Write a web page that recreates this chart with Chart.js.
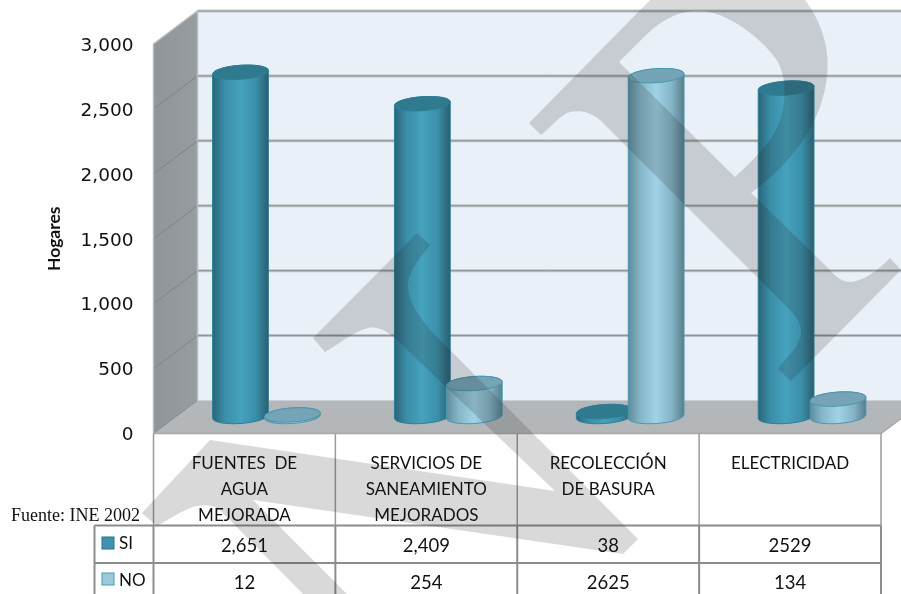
<!DOCTYPE html>
<html>
<head>
<meta charset="utf-8">
<style>html,body{margin:0;padding:0;background:#fff}canvas{display:block}</style>
<script src="https://cdn.jsdelivr.net/npm/chart.js@4/dist/chart.umd.js"></script>
</head>
<body>
<canvas id="c" width="901" height="594"></canvas>
<script>
const categories = [
  ['FUENTES  DE', 'AGUA', 'MEJORADA'],
  ['SERVICIOS DE', 'SANEAMIENTO', 'MEJORADOS'],
  ['RECOLECCIÓN', 'DE BASURA'],
  ['ELECTRICIDAD']
];
const siValues = [2651, 2409, 38, 2529];
const noValues = [12, 254, 2625, 134];
const siLabels = ['2,651', '2,409', '38', '2529'];
const noLabels = ['12', '254', '2625', '134'];
const yMax = 3000;
const yStep = 500;

const TEXT = '#111';
const FONT = 'Lato';
const looks = [
  {stops: ['#2b6578', '#3a8ea8', '#46a2bd', '#3a8ea8', '#2a5e6f'], top: '#2f7a8f', edge: '#2f7f98'},
  {stops: ['#5f8c9c', '#86b6c8', '#a0d3e6', '#85b4c6', '#557f8e'], top: '#74a4b6', edge: '#4a98b0'}
];
const DX = 44, DY = -33;          // wall depth
const BX = 22, BY = -17;          // bar depth

function cylinder(ctx, el, look) {
  const p = el.getProps(['x', 'y', 'base', 'width'], false);
  const cx = p.x + BX, rx = p.width / 2, ry = 7, rot = -0.07;
  const yt = p.y + BY, yb = p.base + BY;
  const g = ctx.createLinearGradient(cx - rx, 0, cx + rx, 0);
  [0, .22, .5, .78, 1].forEach((s, i) => g.addColorStop(s, look.stops[i]));
  ctx.beginPath();
  ctx.ellipse(cx, yb, rx, ry, rot, Math.PI, 0, true);
  ctx.ellipse(cx, yt, rx, ry, rot, 0, Math.PI, true);
  ctx.closePath();
  ctx.fillStyle = g; ctx.fill();
  ctx.strokeStyle = look.edge; ctx.lineWidth = 1; ctx.stroke();
  ctx.beginPath();
  ctx.ellipse(cx, yt, rx, ry, rot, 0, Math.PI * 2);
  ctx.fillStyle = look.top; ctx.fill();
  ctx.strokeStyle = look.edge; ctx.stroke();
}

const poly = (ctx, pts, fill) => {
  ctx.beginPath();
  pts.forEach((q, i) => i ? ctx.lineTo(q[0], q[1]) : ctx.moveTo(q[0], q[1]));
  ctx.closePath();
  ctx.fillStyle = fill; ctx.fill();
};

const scene = {
  id: 'scene',
  beforeDatasetsDraw(chart) {
    const {ctx, chartArea: a, scales: {y}} = chart;
    ctx.save();
    // back wall
    ctx.fillStyle = '#e9f0f7';
    ctx.fillRect(a.left + DX, a.top + DY, a.width, a.height);
    // left wall
    const wg = ctx.createLinearGradient(a.left, 0, a.left + DX, 0);
    wg.addColorStop(0, '#8f9598'); wg.addColorStop(1, '#969c9f');
    poly(ctx, [[a.left, a.top], [a.left + DX, a.top + DY], [a.left + DX, a.bottom + DY], [a.left, a.bottom]], wg);
    // floor
    poly(ctx, [[a.left, a.bottom], [a.left + DX, a.bottom + DY], [a.right + DX, a.bottom + DY], [a.right, a.bottom]], '#b3b7ba');
    // gridlines from the value scale
    y.ticks.forEach(t => {
      const py = y.getPixelForValue(t.value);
      if (t.value > 0) {
        ctx.strokeStyle = 'rgba(150,150,150,.5)'; ctx.lineWidth = 3;
        ctx.beginPath(); ctx.moveTo(a.left + DX, py + DY); ctx.lineTo(a.right + DX, py + DY); ctx.stroke();
        ctx.strokeStyle = 'rgba(125,125,125,.75)'; ctx.lineWidth = 1;
        ctx.beginPath(); ctx.moveTo(a.left + DX, py + DY); ctx.lineTo(a.right + DX, py + DY); ctx.stroke();
      }
      ctx.strokeStyle = 'rgba(125,125,125,.8)'; ctx.lineWidth = 1;
      ctx.beginPath(); ctx.moveTo(a.left, py); ctx.lineTo(a.left + DX, py + DY); ctx.stroke();
    });
    // wall edges
    ctx.strokeStyle = '#b9bcbe'; ctx.lineWidth = 1.5;
    ctx.beginPath();
    ctx.moveTo(a.left, a.bottom); ctx.lineTo(a.left, a.top); ctx.lineTo(a.left + DX, a.top + DY); ctx.lineTo(a.left + DX, a.bottom + DY);
    ctx.stroke();
    ctx.strokeStyle = '#c9d0d6'; ctx.lineWidth = 1;
    ctx.beginPath(); ctx.moveTo(a.left + DX, a.bottom + DY); ctx.lineTo(a.right + DX, a.bottom + DY); ctx.stroke();
    ctx.strokeStyle = '#a7a9ab'; ctx.lineWidth = 1.5;
    ctx.beginPath(); ctx.moveTo(a.left, a.bottom); ctx.lineTo(a.right, a.bottom); ctx.lineTo(a.right + DX, a.bottom + DY); ctx.stroke();
    // cylinders: first series behind, second series in front
    chart.data.datasets.forEach((d, i) => {
      chart.getDatasetMeta(i).data.forEach(el => cylinder(ctx, el, looks[i]));
    });
    ctx.restore();
  },
  beforeDatasetDraw() {
    return false;
  },
  afterDraw(chart) {
    const {ctx, chartArea: a, scales: {x}, data} = chart;
    ctx.save();
    const n = categories.length, cw = a.width / n;
    const r1 = 525.5, r2 = 563, end = 594, lx = 94.5;
    // header verticals
    ctx.strokeStyle = '#9a9a9a'; ctx.lineWidth = 1.5;
    for (let i = 0; i <= n; i++) {
      const vx = a.left + i * cw;
      ctx.beginPath(); ctx.moveTo(vx, a.bottom); ctx.lineTo(vx, r1); ctx.stroke();
    }
    // data rows
    ctx.strokeStyle = '#8c8c8c'; ctx.lineWidth = 2;
    for (let i = 0; i <= n; i++) {
      const vx = a.left + i * cw;
      ctx.beginPath(); ctx.moveTo(vx, r1); ctx.lineTo(vx, end); ctx.stroke();
    }
    ctx.beginPath(); ctx.moveTo(lx, r1); ctx.lineTo(lx, end); ctx.stroke();
    [r1, r2].forEach(ry => { ctx.beginPath(); ctx.moveTo(lx, ry); ctx.lineTo(a.right, ry); ctx.stroke(); });
    // rows
    const rows = [[siLabels, 546], [noLabels, 583]];
    ctx.fillStyle = TEXT; ctx.font = '18.5px ' + FONT; ctx.textBaseline = 'middle'; ctx.textAlign = 'center';
    rows.forEach(([labels, ry]) => labels.forEach((s, i) => ctx.fillText(s, x.getPixelForTick(i), ry)));
    // legend keys
    ctx.font = '17px ' + FONT;
    data.datasets.forEach((d, i) => {
      const ky = i ? 573 : 537;
      ctx.fillStyle = d.backgroundColor; ctx.fillRect(102, ky, 12, 12);
      ctx.strokeStyle = d.borderColor; ctx.lineWidth = 1; ctx.strokeRect(102, ky, 12, 12);
      ctx.fillStyle = TEXT; ctx.textAlign = 'left';
      ctx.fillText(d.label, 119, rows[i][1] - 2);
    });
    // source note
    ctx.font = '18px "Liberation Serif"'; ctx.textBaseline = 'alphabetic';
    ctx.fillText('Fuente: INE 2002', 11, 521);
    // watermark
    ctx.fillStyle = 'rgba(30,30,30,.17)';
    ctx.beginPath();
    ctx.moveTo(529, 123); ctx.lineTo(650, 0); ctx.lineTo(805, 0);
    ctx.bezierCurveTo(822, 22, 830, 50, 827, 75);
    ctx.bezierCurveTo(823, 120, 795, 160, 755, 190);
    ctx.lineTo(751, 193); ctx.lineTo(830, 270);
    ctx.bezierCurveTo(838, 280, 848, 284, 856, 281);
    ctx.bezierCurveTo(868, 278, 880, 268, 890, 258);
    ctx.lineTo(901, 270); ctx.lineTo(791, 381); ctx.lineTo(778, 369);
    ctx.bezierCurveTo(788, 355, 802, 345, 801, 330);
    ctx.bezierCurveTo(800, 318, 790, 310, 780, 300);
    ctx.lineTo(600, 120);
    ctx.bezierCurveTo(590, 111, 578, 110, 570, 112);
    ctx.bezierCurveTo(560, 115, 550, 128, 541, 135);
    ctx.closePath();
    ctx.moveTo(619, 62); ctx.lineTo(645, 36);
    ctx.bezierCurveTo(665, 16, 685, 9, 705, 11);
    ctx.bezierCurveTo(735, 16, 768, 45, 778, 62);
    ctx.bezierCurveTo(790, 85, 785, 120, 770, 140);
    ctx.bezierCurveTo(760, 153, 748, 165, 735, 177);
    ctx.closePath();
    ctx.fill('evenodd');
    ctx.beginPath();
    ctx.moveTo(313, 338); ctx.lineTo(417, 233); ctx.lineTo(430, 245);
    ctx.bezierCurveTo(420, 258, 407, 272, 408, 288);
    ctx.bezierCurveTo(409, 305, 425, 325, 440, 340);
    ctx.lineTo(638, 539); ctx.lineTo(623, 554); ctx.lineTo(253, 500);
    ctx.lineTo(347, 594); ctx.lineTo(303, 594); ctx.lineTo(220, 510);
    ctx.bezierCurveTo(212, 504, 200, 504, 190, 508);
    ctx.bezierCurveTo(178, 513, 168, 520, 157, 526);
    ctx.lineTo(142, 513); ctx.lineTo(210, 440); ctx.lineTo(555, 491); ctx.lineTo(400, 343);
    ctx.bezierCurveTo(388, 331, 378, 326, 368, 328);
    ctx.bezierCurveTo(355, 331, 340, 343, 325, 352);
    ctx.closePath();
    ctx.fill();
    ctx.restore();
  }
};

new Chart(document.getElementById('c'), {
  type: 'bar',
  plugins: [scene],
  data: {
    labels: categories,
    datasets: [
      {label: 'SI', data: siValues, backgroundColor: '#3f93ae', borderColor: '#2a7088'},
      {label: 'NO', data: noValues, backgroundColor: '#9ccadb', borderColor: '#4a98b0'}
    ]
  },
  options: {
    responsive: false,
    animation: false,
    categoryPercentage: 0.571,
    barPercentage: 1.077,
    layout: {padding: {top: 44, right: 20, left: 0, bottom: 0}},
    plugins: {legend: {display: false}, tooltip: {enabled: false}, title: {display: false}},
    scales: {
      x: {
        grid: {display: false, drawTicks: false},
        border: {display: false},
        afterFit: s => { s.height = 160.5; },
        ticks: {
          color: TEXT, padding: 17, maxRotation: 0, autoSkip: false,
          font: {family: FONT, size: 17, lineHeight: 1.53}
        }
      },
      y: {
        min: 0, max: yMax,
        grid: {display: false, drawTicks: false},
        border: {display: false},
        afterFit: s => { s.width = 153.5; },
        ticks: {stepSize: yStep, color: TEXT, padding: 20, labelOffset: 2, font: {family: '"DejaVu Sans"', size: 18.5}},
        title: {display: true, text: 'Hogares', color: TEXT, padding: {top: 44, bottom: 0},
          font: {family: FONT, size: 17.5, weight: 'bold'}}
      }
    }
  }
});
</script>
</body>
</html>
